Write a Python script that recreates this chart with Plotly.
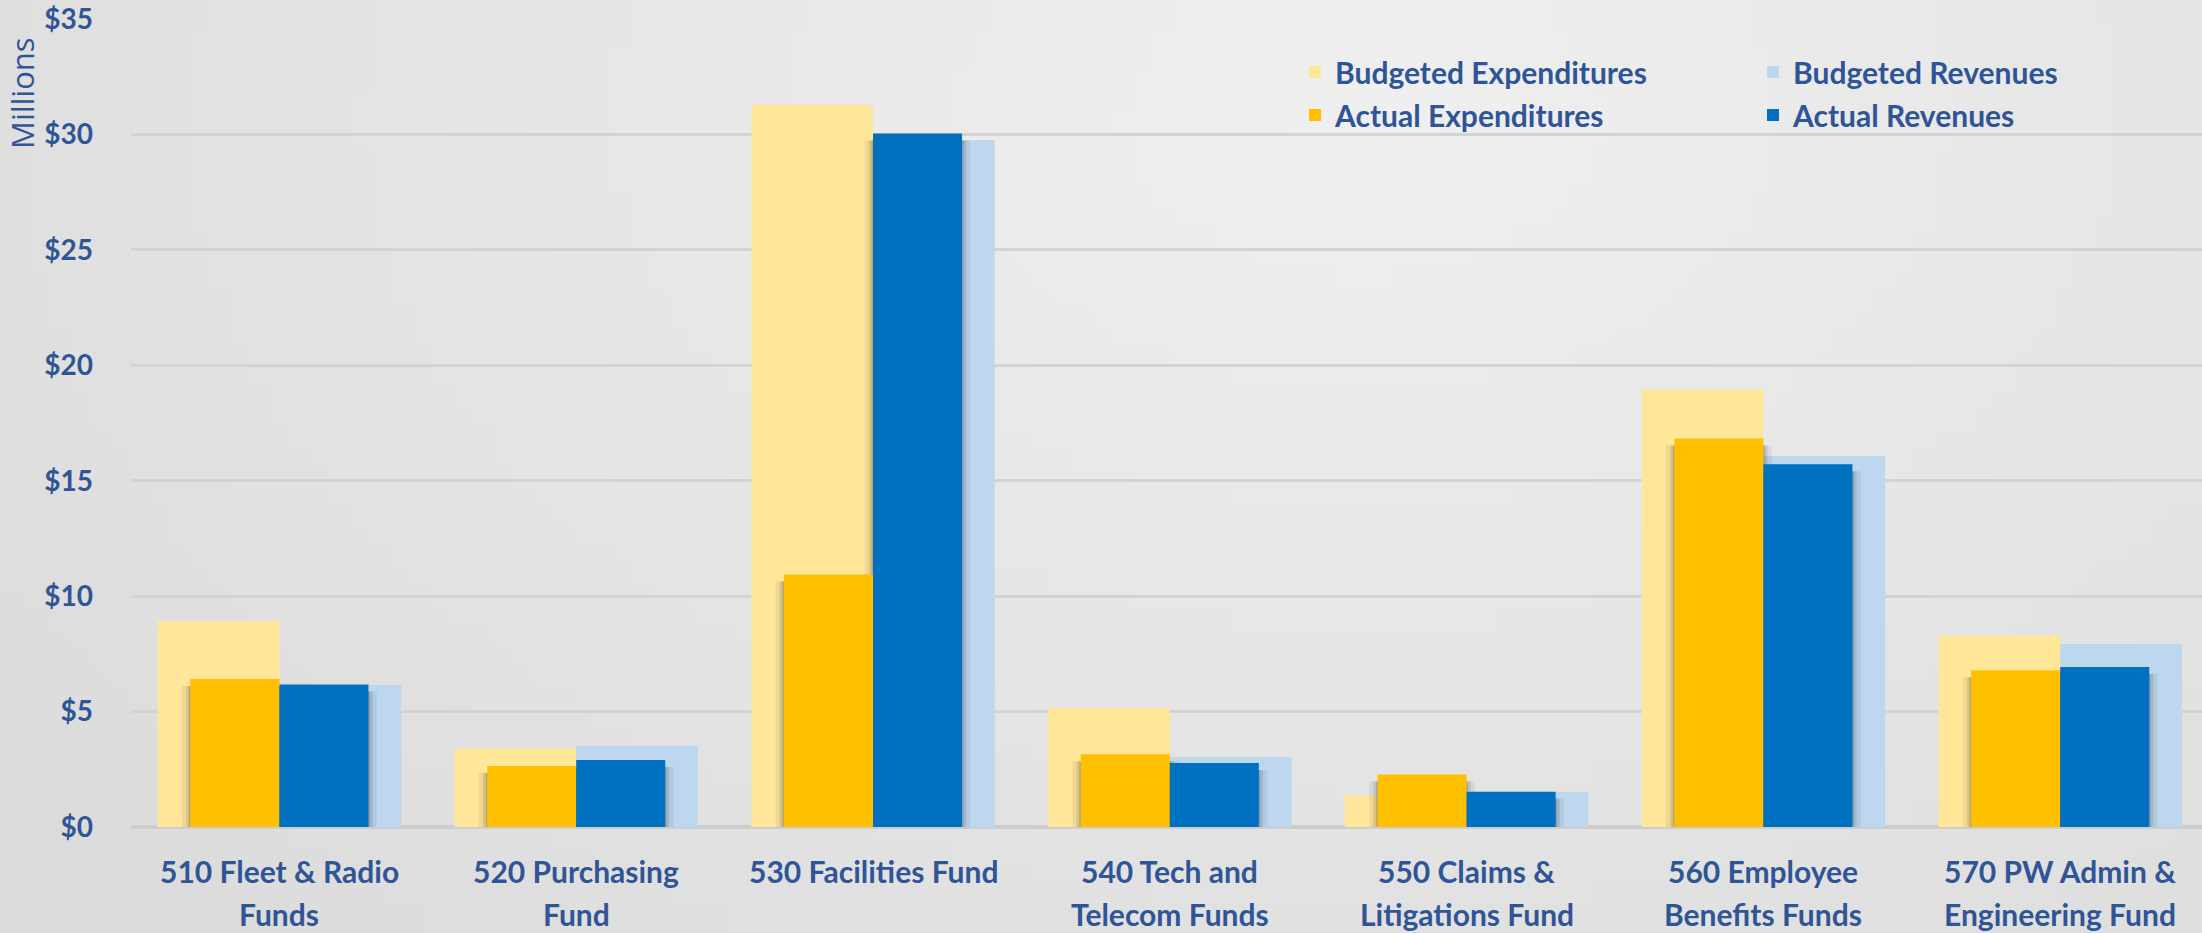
import plotly.graph_objects as go
import zlib, struct, base64, math

# ---------------- data ----------------
categories = [
    "510 Fleet & Radio<br>Funds",
    "520 Purchasing<br>Fund",
    "530 Facilities Fund",
    "540 Tech and<br>Telecom Funds",
    "550 Claims &<br>Litigations Fund",
    "560 Employee<br>Benefits Funds",
    "570 PW Admin &<br>Engineering Fund",
]
budgeted_expenditures = [8.92, 3.39, 31.27, 5.15, 1.37, 18.96, 8.29]
actual_expenditures = [6.41, 2.64, 10.94, 3.15, 2.27, 16.83, 6.79]
budgeted_revenues = [6.15, 3.52, 29.75, 3.03, 1.52, 16.07, 7.93]
actual_revenues = [6.17, 2.90, 30.04, 2.77, 1.53, 15.71, 6.93]
y_tick_values = [0, 5, 10, 15, 20, 25, 30, 35]
y_tick_labels = ["$0", "$5", "$10", "$15", "$20", "$25", "$30", "$35"]

# ---------------- style ----------------
W, H = 2202, 933
ML, MR, MT, MB = 131, 0, 19, 106
PW, PH = W - ML - MR, H - MT - MB
TXT = "#2F5597"
FONT = "Lato"
C_BE, C_AE, C_BR, C_AR = "#FFE699", "#FFC000", "#BDD7EE", "#0070C0"
BW, AW = 0.41, 0.30
cat_spacing_px = 296.8
x_end = -0.5 + PW / cat_spacing_px


# background gradient as small PNG
def make_png(w, h, fn):
    raw = b""
    for j in range(h):
        row = b"\x00"
        for i in range(w):
            v = fn(i / (w - 1), j / (h - 1))
            row += bytes([v, v, v])
        raw += row

    def chunk(tag, data):
        c = struct.pack(">I", len(data)) + tag + data
        return c + struct.pack(">I", zlib.crc32(tag + data) & 0xFFFFFFFF)

    png = b"\x89PNG\r\n\x1a\n"
    png += chunk(b"IHDR", struct.pack(">IIBBBBB", w, h, 8, 2, 0, 0, 0))
    png += chunk(b"IDAT", zlib.compress(raw, 9))
    png += chunk(b"IEND", b"")
    return "data:image/png;base64," + base64.b64encode(png).decode()


def grad(x, y):
    d = math.sqrt(((x - 0.62) / 0.62) ** 2 + ((y - 0.12) / 1.0) ** 2)
    return int(max(219, min(240, 240 - 16 * d)))


bg_src = make_png(110, 47, grad)

xs = list(range(len(categories)))

fig = go.Figure()
fig.add_trace(go.Bar(x=xs, y=budgeted_expenditures, name="Budgeted Expenditures",
                     width=BW, offset=-BW, marker=dict(color=C_BE, line=dict(width=0)),
                     legend="legend", legendgroup="be", hoverinfo="y"))
fig.add_trace(go.Bar(x=xs, y=budgeted_revenues, name="Budgeted Revenues",
                     width=BW, offset=0, marker=dict(color=C_BR, line=dict(width=0)),
                     legend="legend2", legendgroup="br", hoverinfo="y"))

# soft shadows under the actual bars
for ext, alpha in [(0.028, 0.07), (0.014, 0.12), (0.005, 0.18)]:
    for vals, off in [(actual_expenditures, -AW), (actual_revenues, 0.0)]:
        fig.add_trace(go.Bar(x=xs, y=[v - 0.3 for v in vals], width=AW + 2 * ext,
                             offset=off - ext, showlegend=False, hoverinfo="skip",
                             marker=dict(color=f"rgba(40,40,40,{alpha})", line=dict(width=0))))

fig.add_trace(go.Bar(x=xs, y=actual_expenditures, name="Actual Expenditures",
                     width=AW, offset=-AW, marker=dict(color=C_AE, line=dict(width=0)),
                     legend="legend", legendgroup="ae", hoverinfo="y"))
fig.add_trace(go.Bar(x=xs, y=actual_revenues, name="Actual Revenues",
                     width=AW, offset=0, marker=dict(color=C_AR, line=dict(width=0)),
                     legend="legend2", legendgroup="ar", hoverinfo="y"))

annotations = []
line_y = [(MT + PH - 871) / PH, (MT + PH - 914) / PH]
for i, cat in enumerate(categories):
    for k, part in enumerate(cat.split("<br>")):
        annotations.append(dict(x=i, y=line_y[k], xref="x", yref="paper", text=part,
                                showarrow=False, xanchor="center", yanchor="middle",
                                font=dict(family=FONT, size=30, color=TXT, weight="bold")))
annotations.append(dict(x=(22 - ML) / PW, y=(MT + PH - 93) / PH, xref="paper", yref="paper",
                        text="Millions", textangle=-90, showarrow=False,
                        xanchor="center", yanchor="middle", borderpad=0,
                        font=dict(family="Open Sans", size=31, color=TXT)))

legend_common = dict(orientation="v", yanchor="top", xanchor="left",
                     bgcolor="rgba(0,0,0,0)", borderwidth=0, tracegroupgap=1,
                     font=dict(family=FONT, size=30, color=TXT, weight="bold"),
                     itemclick=False, itemdoubleclick=False)

fig.update_layout(
    width=W, height=H,
    margin=dict(l=ML, r=MR, t=MT, b=MB, pad=0),
    barmode="overlay",
    paper_bgcolor="#e6e6e6",
    plot_bgcolor="rgba(0,0,0,0)",
    images=[dict(source=bg_src, xref="paper", yref="paper",
                 x=-ML / PW, y=1 + MT / PH, sizex=W / PW, sizey=H / PH,
                 xanchor="left", yanchor="top", sizing="stretch", layer="below")],
    xaxis=dict(range=[-0.5, x_end], showticklabels=False, showgrid=False,
               zeroline=False, showline=False, ticks="", fixedrange=True),
    yaxis=dict(range=[0, 35], tickvals=y_tick_values, ticktext=y_tick_labels,
               showgrid=True, gridcolor="#d3d3d3", gridwidth=3,
               zeroline=True, zerolinecolor="#cdcdcd", zerolinewidth=4,
               showline=False, ticks="", ticklabelstandoff=37,
               tickfont=dict(family=FONT, size=28, color=TXT, weight="bold")),
    legend=dict(x=(1295 - ML) / PW, y=(MT + PH - 46) / PH, **legend_common),
    legend2=dict(x=(1753 - ML) / PW, y=(MT + PH - 46) / PH, **legend_common),
    annotations=annotations,
    showlegend=True,
)

fig.write_html(
    "out.html",
    config={"displayModeBar": False},
    post_script="document.body.style.margin='0';document.body.style.overflow='hidden';"
                "document.documentElement.style.overflow='hidden';",
)
